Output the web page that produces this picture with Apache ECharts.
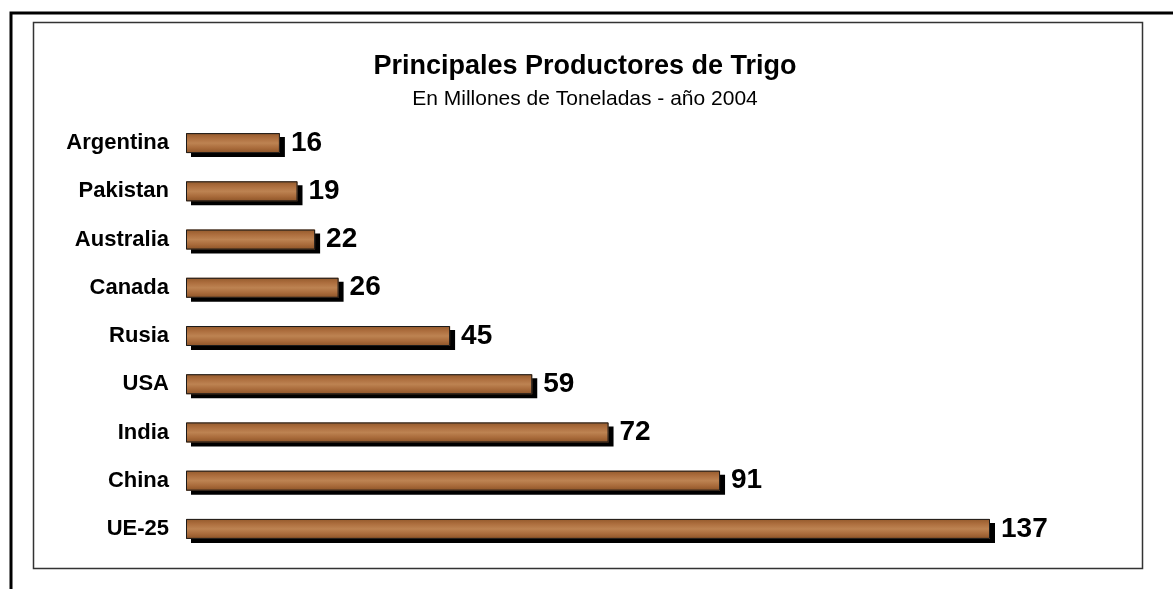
<!DOCTYPE html>
<html>
<head>
<meta charset="utf-8">
<script src="https://cdn.jsdelivr.net/npm/echarts@6/dist/echarts.min.js"></script>
<style>
html,body{margin:0;padding:0;background:#fff;}
#chart{width:1173px;height:589px;}
</style>
</head>
<body>
<div id="chart"></div>
<script>
const categories = ['Argentina','Pakistan','Australia','Canada','Rusia','USA','India','China','UE-25'];
const values = [16, 19, 22, 26, 45, 59, 72, 91, 137];
const titleText = 'Principales Productores de Trigo';
const subtitleText = 'En Millones de Toneladas - año 2004';

const chart = echarts.init(document.getElementById('chart'));
const wood = new echarts.graphic.LinearGradient(0, 0, 0, 1, [
  {offset: 0, color: '#93592b'},
  {offset: 0.25, color: '#ad6e3e'},
  {offset: 0.5, color: '#bd8352'},
  {offset: 0.75, color: '#a96b3b'},
  {offset: 1, color: '#8c5327'}
]);
chart.setOption({
  animation: false,
  backgroundColor: '#fff',
  title: {
    text: titleText,
    subtext: subtitleText,
    left: 580,
    textAlign: 'center',
    top: 48,
    itemGap: 9,
    textStyle: {fontFamily: 'Liberation Sans', fontWeight: 'bold', fontSize: 27, color: '#000'},
    subtextStyle: {fontFamily: 'Liberation Sans', fontSize: 21, color: '#000'}
  },
  graphic: [
    {type: 'polyline', shape: {points: [[11, 589], [11, 13], [1173, 13]]}, style: {stroke: '#000', lineWidth: 3, fill: null}},
    {type: 'rect', shape: {x: 33.5, y: 22.5, width: 1109, height: 546}, style: {stroke: '#333', lineWidth: 1.5, fill: null}}
  ],
  grid: {left: 186, right: 183, top: 119, bottom: 36},
  xAxis: {type: 'value', min: 0, max: 137, show: false},
  yAxis: {
    type: 'category',
    data: categories,
    inverse: true,
    axisLine: {show: false},
    axisTick: {show: false},
    axisLabel: {fontFamily: 'Liberation Sans', fontWeight: 'bold', fontSize: 22, color: '#000', margin: 17}
  },
  series: [{
    type: 'bar',
    data: values,
    barWidth: 20,
    z: 2,
    itemStyle: {
      color: wood,
      shadowColor: '#000',
      shadowBlur: 0,
      shadowOffsetX: 5,
      shadowOffsetY: 4
    },
    label: {
      show: true,
      position: 'right',
      distance: 11,
      fontFamily: 'Liberation Sans',
      fontWeight: 'bold',
      fontSize: 28,
      color: '#000'
    }
  }, {
    type: 'bar',
    data: values,
    barWidth: 20,
    barGap: '-100%',
    z: 3,
    silent: true,
    itemStyle: {
      color: 'rgba(0,0,0,0)',
      borderColor: '#1a1a1a',
      borderWidth: 1
    }
  }]
});
</script>
</body>
</html>
